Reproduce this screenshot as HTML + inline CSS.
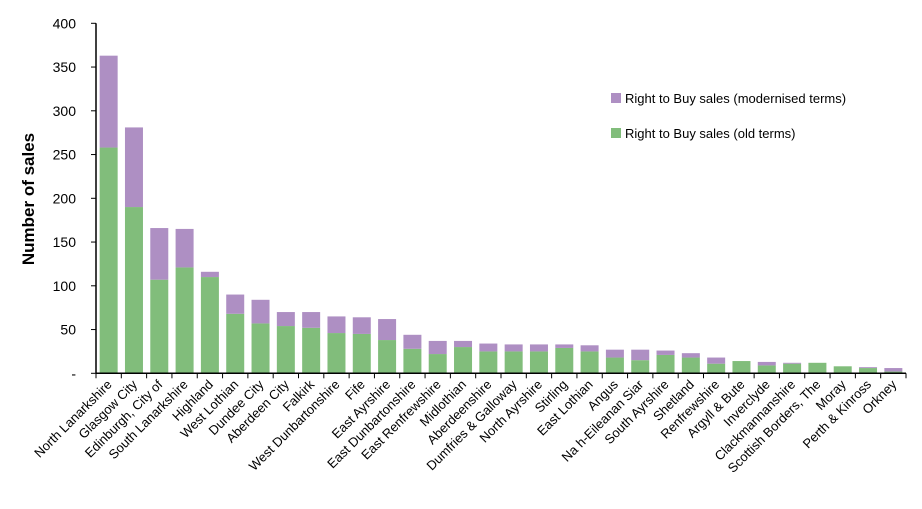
<!DOCTYPE html>
<html><head><meta charset="utf-8"><style>
body{margin:0;background:#fff;font-family:"Liberation Sans",Arial,sans-serif;}
</style></head><body>
<svg id="chart" width="922" height="504" viewBox="0 0 922 504" style="font-family:'Liberation Sans',Arial,sans-serif">
<g id="bars"></g>
<g id="axes"></g>
<text x="34" y="199" transform="rotate(-90 34 199)" text-anchor="middle" font-size="17" font-weight="bold">Number of sales</text>
<g>
<rect x="611" y="93" width="10" height="10" fill="#ae8fc3"/>
<text x="625" y="103" font-size="13">Right to Buy sales (modernised terms)</text>
<rect x="611" y="128" width="10" height="10" fill="#81bd7b"/>
<text x="625" y="138" font-size="13">Right to Buy sales (old terms)</text>
</g>
</svg>
<script>
const categories=["North Lanarkshire","Glasgow City","Edinburgh, City of","South Lanarkshire","Highland","West Lothian","Dundee City","Aberdeen City","Falkirk","West Dunbartonshire","Fife","East Ayrshire","East Dunbartonshire","East Renfrewshire","Midlothian","Aberdeenshire","Dumfries & Galloway","North Ayrshire","Stirling","East Lothian","Angus","Na h-Eileanan Siar","South Ayrshire","Shetland","Renfrewshire","Argyll & Bute","Inverclyde","Clackmannanshire","Scottish Borders, The","Moray","Perth & Kinross","Orkney"];
const oldTerms=[258,190,107,121,110,68,57,54,52,46,45,38,28,22,30,25,25,25,29,25,18,15,21,18,11,14,9,11,12,8,6,2];
const modernisedTerms=[105,91,59,44,6,22,27,16,18,19,19,24,16,15,7,9,8,8,4,7,9,12,5,5,7,0,4,1,0,0,1,4];
const yTicks=[0,50,100,150,200,250,300,350,400];
const yTickLabels=["-","50","100","150","200","250","300","350","400"];

const NS="http://www.w3.org/2000/svg";
const x0=96,x1=906,y0=373.3,yTop=23.3,yMax=400;
const pitch=(x1-x0)/categories.length,barW=18;
function yScale(v){return y0-(v/yMax)*(y0-yTop);}
function xCenter(i){return x0+pitch*(i+0.5);}
function mk(tag,attrs){const e=document.createElementNS(NS,tag);for(const k in attrs)e.setAttribute(k,attrs[k]);return e;}
const bars=document.getElementById('bars'),axes=document.getElementById('axes');
categories.forEach((c,i)=>{
  const cx=xCenter(i);
  const g=mk('rect',{x:cx-barW/2,y:yScale(oldTerms[i]),width:barW,height:y0-yScale(oldTerms[i]),fill:'#81bd7b'});
  
  
  bars.appendChild(g);
  const tot=oldTerms[i]+modernisedTerms[i];
  const p=mk('rect',{x:cx-barW/2,y:yScale(tot),width:barW,height:yScale(oldTerms[i])-yScale(tot),fill:'#ae8fc3'});
  
  
  bars.appendChild(p);
  const t=mk('text',{x:0,y:0,'font-size':13,'text-anchor':'end',transform:`translate(${cx+4},${y0+12}) rotate(-45)`});
  t.textContent=c;
  
  
  axes.appendChild(t);
});
for(let i=0;i<=categories.length;i++){
  const tx=x0+pitch*i;
  const l=mk('line',{x1:tx,x2:tx,y1:y0,y2:y0+5,stroke:'#000','stroke-width':1});
  
  
  axes.appendChild(l);
}
yTicks.forEach((v,i)=>{
  const y=yScale(v);
  const l=mk('line',{x1:x0-5,x2:x0,y1:y,y2:y,stroke:'#000','stroke-width':1});
  
  
  axes.appendChild(l);
  const t=mk('text',{x:x0-20,y:y+5,'font-size':14,'text-anchor':'end'});
  t.textContent=yTickLabels[i];
  
  
  axes.appendChild(t);
});
const ya=mk('line',{x1:x0,x2:x0,y1:yTop,y2:y0,stroke:'#000','stroke-width':1.5});


axes.appendChild(ya);
const xa=mk('line',{x1:x0,x2:x1,y1:y0,y2:y0,stroke:'#000','stroke-width':1.5});


axes.appendChild(xa);
</script>
</body></html>
